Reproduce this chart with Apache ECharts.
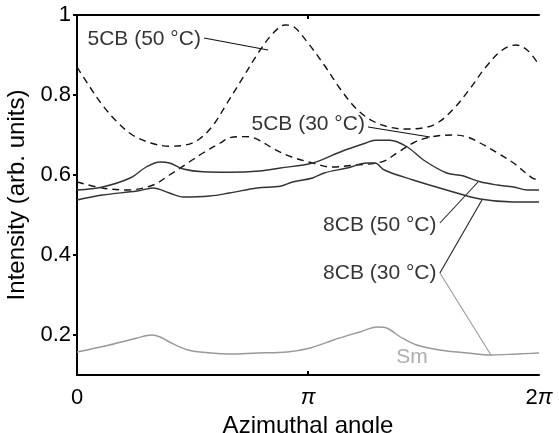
<!DOCTYPE html>
<html>
<head>
<meta charset="utf-8">
<title>Intensity vs azimuthal angle</title>
<script src="https://cdn.jsdelivr.net/npm/echarts@6.0.0/dist/echarts.min.js"></script>
<style>
	html, body { margin: 0; padding: 0; background: #fff; }
	#chart { width: 559px; height: 433px; }
</style>
</head>
<body>
<div id="chart"></div>
<script>
// x is the azimuthal angle in units of pi (0 .. 2), y the intensity
const xTicks = [0, 1, 2];
const xTickLabels = ["0", "{i|π}", "2{i|π}"];
const yTicks = [0.2, 0.4, 0.6, 0.8, 1];

// 5CB at 50 °C (dashed, top)
const cb5At50 = [
	[0, 0.87], [0.05, 0.825], [0.11, 0.775], [0.17, 0.735], [0.24, 0.70],
	[0.32, 0.68], [0.40, 0.672], [0.47, 0.675], [0.53, 0.69], [0.59, 0.725],
	[0.65, 0.78], [0.72, 0.845], [0.79, 0.91], [0.85, 0.955], [0.9, 0.975],
	[0.94, 0.97], [1.0, 0.93], [1.07, 0.875], [1.14, 0.815], [1.21, 0.765],
	[1.28, 0.735], [1.35, 0.72], [1.42, 0.715], [1.50, 0.718], [1.56, 0.73],
	[1.63, 0.765], [1.70, 0.815], [1.77, 0.87], [1.84, 0.912], [1.90, 0.925],
	[1.95, 0.912], [2.0, 0.875]
];
// 5CB at 30 °C (dashed)
const cb5At30 = [
	[0, 0.5825], [0.11, 0.5675], [0.22, 0.5625], [0.33, 0.575], [0.40, 0.60],
	[0.48, 0.63], [0.545, 0.655], [0.62, 0.68], [0.66, 0.693], [0.72, 0.696],
	[0.77, 0.692], [0.86, 0.663], [0.93, 0.645], [1.02, 0.63], [1.10, 0.62],
	[1.19, 0.624], [1.32, 0.633], [1.385, 0.655], [1.455, 0.68], [1.53, 0.695],
	[1.63, 0.70], [1.69, 0.695], [1.745, 0.68], [1.82, 0.655], [1.89, 0.63],
	[1.97, 0.593], [2.0, 0.5875]
];
// 8CB at 50 °C (solid, upper)
const cb8At50 = [
	[0, 0.5625], [0.11, 0.57], [0.23, 0.5925], [0.30, 0.62], [0.36, 0.6325],
	[0.40, 0.63], [0.46, 0.615], [0.545, 0.608], [0.66, 0.607], [0.79, 0.61],
	[0.88, 0.6175], [1.02, 0.63], [1.15, 0.66], [1.25, 0.68], [1.29, 0.687],
	[1.355, 0.687], [1.43, 0.67], [1.50, 0.6375], [1.60, 0.605], [1.67, 0.598],
	[1.745, 0.583], [1.82, 0.575], [1.89, 0.57], [1.95, 0.5625], [2.0, 0.5625]
];
// 8CB at 30 °C (solid, lower)
const cb8At30 = [
	[0, 0.5375], [0.11, 0.55], [0.26, 0.56], [0.33, 0.5675], [0.40, 0.555],
	[0.46, 0.545], [0.575, 0.5475], [0.66, 0.555], [0.78, 0.5675], [0.88, 0.572],
	[0.93, 0.582], [1.02, 0.5925], [1.07, 0.605], [1.17, 0.6175], [1.255, 0.63],
	[1.29, 0.63], [1.33, 0.6125], [1.455, 0.5875], [1.60, 0.5625], [1.745, 0.54],
	[1.89, 0.5325], [2.0, 0.5325]
];
// smectic reference (grey)
const smectic = [
	[0, 0.1575], [0.14, 0.175], [0.26, 0.1925], [0.325, 0.20], [0.36, 0.195],
	[0.40, 0.1825], [0.48, 0.1625], [0.58, 0.155], [0.66, 0.1525], [0.78, 0.155],
	[0.91, 0.1575], [1.01, 0.1675], [1.11, 0.1875], [1.225, 0.2075], [1.30, 0.22],
	[1.34, 0.2175], [1.40, 0.195], [1.47, 0.175], [1.57, 0.1625], [1.69, 0.155],
	[1.79, 0.15], [1.905, 0.1525], [2.0, 0.155]
];

// annotation leader lines, in data units
const lead5At50 = [[0.55, 0.9425], [0.827, 0.9125]];
const lead5At30 = [[1.26, 0.72], [1.528, 0.695]];
const lead8At50 = [[1.571, 0.48], [1.736, 0.5825]];
const lead8At30 = [[1.571, 0.355], [1.753, 0.5375]];
const leadSm = [[1.571, 0.355], [1.792, 0.15]];

const labelNames = ["5CB (50 °C)", "5CB (30 °C)", "8CB (50 °C)", "8CB (30 °C)"];
const labelAnchors = [[0.545, 0.94], [1.255, 0.7275], [1.565, 0.475], [1.565, 0.355]];
const smAnchor = [1.45, 0.145];

const font = '"Liberation Sans", Arial, Helvetica, sans-serif';

function curve(name, data, color, dashed) {
	return {
		name: name,
		type: "line",
		data: data,
		smooth: 0.35,
		symbol: "none",
		silent: true,
		lineStyle: { color: color, width: 1.4, type: dashed ? [7, 5] : "solid" },
		z: 3
	};
}

function leader(data, color) {
	return {
		type: "line",
		data: data,
		symbol: "none",
		silent: true,
		lineStyle: { color: color, width: 1.1 },
		z: 2
	};
}

const chart = echarts.init(document.getElementById("chart"));

chart.setOption({
	animation: false,
	backgroundColor: "#fff",
	textStyle: { fontFamily: font },
	grid: { left: 77, right: 20, top: 15, bottom: 58, outerBoundsMode: "none" },
	xAxis: [
		{
			type: "value",
			min: 0,
			max: 2,
			name: "Azimuthal angle",
			nameLocation: "middle",
			nameGap: 38,
			nameTextStyle: { fontSize: 24, color: "#000", fontFamily: font, verticalAlign: "top" },
			splitLine: { show: false },
			axisLine: { lineStyle: { color: "#000", width: 2 } },
			axisTick: { inside: true, length: 4, customValues: [1], lineStyle: { color: "#000", width: 2 } },
			axisLabel: {
				customValues: xTicks,
				margin: 12,
				fontSize: 22,
				color: "#000",
				formatter: function (v) { return xTickLabels[xTicks.indexOf(v)]; },
				rich: { i: { fontStyle: "italic", fontSize: 22, fontFamily: font } }
			}
		},
		{
			type: "value",
			position: "top",
			min: 0,
			max: 2,
			splitLine: { show: false },
			axisLine: { lineStyle: { color: "#000", width: 2 } },
			axisTick: { inside: true, length: 4, customValues: [1], lineStyle: { color: "#000", width: 2 } },
			axisLabel: { show: false }
		}
	],
	yAxis: [
		{
			type: "value",
			min: 0.1,
			max: 1,
			name: "Intensity (arb. units)",
			nameLocation: "middle",
			nameGap: 45,
			nameTextStyle: { fontSize: 24, color: "#000", fontFamily: font },
			splitLine: { show: false },
			axisLine: { lineStyle: { color: "#000", width: 2 } },
			axisTick: { length: 4, customValues: yTicks, lineStyle: { color: "#000", width: 2 } },
			axisLabel: {
				customValues: yTicks,
				margin: 6,
				fontSize: 22,
				color: "#000",
				formatter: function (v) { return String(+v.toFixed(1)); }
			}
		},
		{
			type: "value",
			position: "right",
			min: 0.1,
			max: 1,
			splitLine: { show: false },
			axisLine: { lineStyle: { color: "#000", width: 2 } },
			axisTick: { inside: true, length: 4, customValues: yTicks, lineStyle: { color: "#000", width: 2 } },
			axisLabel: { show: false }
		}
	],
	series: [
		curve("5CB (50 °C)", cb5At50, "#111", true),
		curve("5CB (30 °C)", cb5At30, "#111", true),
		curve("8CB (50 °C)", cb8At50, "#333", false),
		curve("8CB (30 °C)", cb8At30, "#333", false),
		curve("Sm", smectic, "#999", false),
		leader(lead5At50, "#111"),
		leader(lead5At30, "#111"),
		leader(lead8At50, "#222"),
		leader(lead8At30, "#222"),
		leader(leadSm, "#999"),
		{
			type: "scatter",
			symbolSize: 0,
			silent: true,
			data: labelNames.map(function (n, i) { return { name: n, value: labelAnchors[i] }; })
				.concat([{ name: "Sm", value: smAnchor, label: { position: "inside", color: "#999" } }]),
			label: {
				show: true,
				position: "left",
				distance: 2,
				formatter: "{b}",
				fontSize: 21,
				color: "#000",
				fontFamily: font
			},
			z: 4
		}
	]
});
</script>
</body>
</html>
